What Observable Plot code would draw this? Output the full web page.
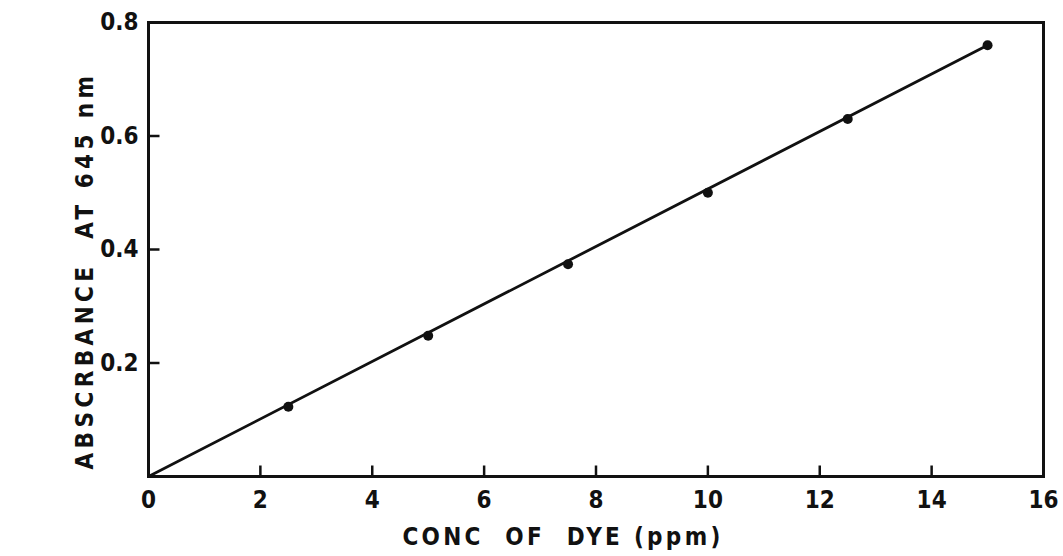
<!DOCTYPE html>
<html>
<head>
<meta charset="utf-8">
<script src="https://cdn.jsdelivr.net/npm/d3@7"></script>
<script src="https://cdn.jsdelivr.net/npm/@observablehq/plot@0.6"></script>
<style>
  html, body { margin: 0; padding: 0; background: #fff; }
  #chart { width: 1063px; height: 556px; position: relative; }
</style>
</head>
<body>
<div id="chart"></div>
<script>
const conc = [2.5, 5, 7.5, 10, 12.5, 15];
const absorbance = [0.123, 0.248, 0.374, 0.5, 0.63, 0.76];
const fitX = [0, 15];
const fitY = [0, 0.76];
const xTicks = [0, 2, 4, 6, 8, 10, 12, 14, 16];
const yTicks = [0.2, 0.4, 0.6, 0.8];
const xLabel = "CONC  OF  DYE (ppm)";
const yLabel = "ABSCRBANCE  AT 645 nm";

const points = conc.map((c, i) => ({x: c, y: absorbance[i]}));
const fit = fitX.map((c, i) => ({x: c, y: fitY[i]}));
const innerX = xTicks.filter(t => t > 0 && t < 16);
const innerY = yTicks.filter(t => t < 0.8);
const font = "'Liberation Sans Narrow', 'DejaVu Sans Condensed', sans-serif";

const upTick = {draw(ctx) { ctx.moveTo(0, 0); ctx.lineTo(0, -11); }};
const rightTick = {draw(ctx) { ctx.moveTo(0, 0); ctx.lineTo(11, 0); }};

const chart = Plot.plot({
  width: 1063,
  height: 556,
  marginLeft: 148,
  marginRight: 20,
  marginTop: 22,
  marginBottom: 80,
  style: {fontFamily: font, fontWeight: "bold", color: "#111", background: "#fff"},
  x: {domain: [0, 16]},
  y: {domain: [0, 0.8]},
  marks: [
    Plot.frame({stroke: "#111", strokeWidth: 3}),
    Plot.dot(innerX, {x: d => d, y: () => 0, symbol: upTick, stroke: "#111", strokeWidth: 2.5, fill: "none"}),
    Plot.dot(innerY, {x: () => 0, y: d => d, symbol: rightTick, stroke: "#111", strokeWidth: 2.5, fill: "none"}),
    Plot.axisX({ticks: xTicks, tickSize: 0, tickPadding: 14, fontSize: 24, label: null, tickFormat: d => String(d)}),
    Plot.axisY({ticks: yTicks, tickSize: 0, tickPadding: 10, fontSize: 24, label: null, tickFormat: d => String(d)}),
    Plot.text([xLabel], {frameAnchor: "bottom", dy: 68, dx: -33, fontSize: 24, text: d => d, fill: "#111", fontWeight: "bold"}),
    Plot.text([yLabel], {frameAnchor: "left", dx: -63, dy: 21, rotate: -90, textAnchor: "middle", fontSize: 24, text: d => d, fill: "#111", fontWeight: "bold"}),
    Plot.line(fit, {x: "x", y: "y", stroke: "#111", strokeWidth: 2.8}),
    Plot.dot(points, {x: "x", y: "y", r: 5, fill: "#111", stroke: "none"})
  ]
});
d3.select(chart).selectAll("text").each(function() {
  const t = this.textContent;
  if (t === xLabel) this.setAttribute("letter-spacing", "3.3px");
  if (t === yLabel) this.setAttribute("letter-spacing", "4.4px");
});
document.getElementById("chart").appendChild(chart);
</script>
</body>
</html>
